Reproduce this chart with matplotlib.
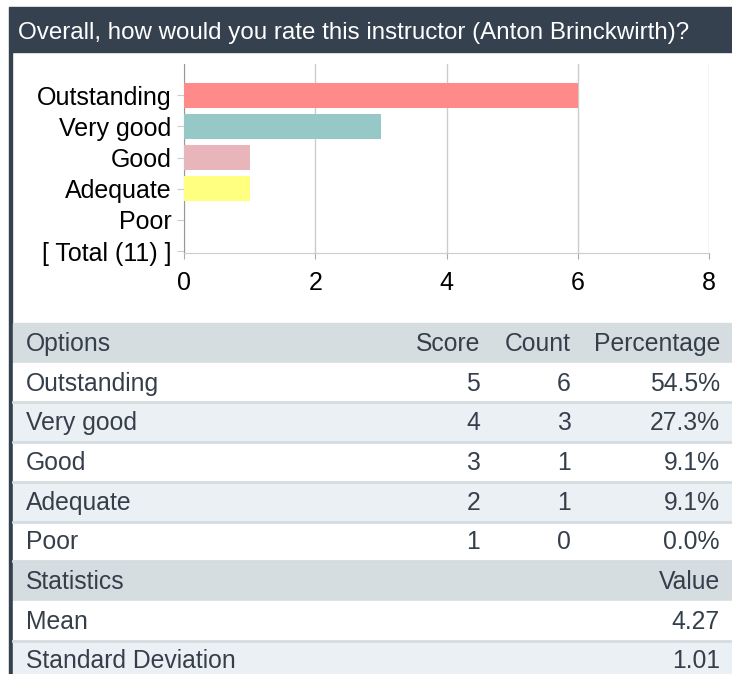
import matplotlib.pyplot as plt
from matplotlib.patches import Rectangle

plt.rcParams['font.family'] = ['Liberation Sans', 'DejaVu Sans']

title = "Overall, how would you rate this instructor (Anton Brinckwirth)?"
options = ["Outstanding", "Very good", "Good", "Adequate", "Poor"]
scores = [5, 4, 3, 2, 1]
counts = [6, 3, 1, 1, 0]
percentages = ["54.5%", "27.3%", "9.1%", "9.1%", "0.0%"]
total_label = "[ Total (11) ]"
bar_colors = ["#ff8a8a", "#96c8c8", "#e8b6ba", "#ffff80", "#cccccc"]
stat_names = ["Mean", "Standard Deviation"]
stat_values = ["4.27", "1.01"]

W, H = 732, 674
fig = plt.figure(figsize=(W / 100, H / 100), dpi=100)

# background layer in pixel coords
bg = fig.add_axes([0, 0, 1, 1])
bg.set_xlim(0, W)
bg.set_ylim(H, 0)
bg.axis('off')

dark = "#36414f"
txt = "#353f4b"
head_bg = "#d5dde1"
stripe = "#ebf0f4"

bg.add_patch(Rectangle((9, 7), W - 9, 45, color=dark))
bg.add_patch(Rectangle((9, 52), 2.5, H - 52, color=dark))
bg.text(18, 33, title, color="white", fontsize=17.4, va='center', ha='left')

# chart
ax = fig.add_axes([184 / W, 1 - 253 / H, 525 / W, 189 / H])
labels = options + [total_label]
ypos = list(range(len(labels)))
ax.barh(ypos[:len(options)], counts, height=0.8, color=bar_colors[:len(options)], zorder=3)
ax.set_yticks(ypos)
ax.set_yticklabels(labels, fontsize=18)
ax.set_ylim(5.06, -1)
ax.set_xlim(0, 8)
ax.set_xticks([0, 2, 4, 6, 8])
ax.tick_params(axis='x', labelsize=18, length=4, color="#aaaaaa", pad=9)
ax.tick_params(axis='y', length=5, color="#cccccc", pad=4)
ax.grid(axis='x', color="#cccccc", linewidth=1, zorder=0)
for s in ['top', 'right']:
    ax.spines[s].set_visible(False)
ax.spines['left'].set_color("#999999")
ax.spines['bottom'].set_color("#cccccc")

# table
row_h = 39.7
y0 = 323
rows = []
rows.append(("head", ["Options", "Score", "Count", "Percentage"]))
for i in range(len(options)):
    rows.append(("data", [options[i], str(scores[i]), str(counts[i]), percentages[i]]))
rows.append(("head", ["Statistics", "", "", "Value"]))
for i in range(len(stat_names)):
    rows.append(("data", [stat_names[i], "", "", stat_values[i]]))

col_x = [26, 480, 571, 720]
k = 0
for j, (kind, cells) in enumerate(rows):
    top = y0 + j * row_h
    if kind == "head":
        color = head_bg
        k = 0
    else:
        color = stripe if k % 2 == 1 else "white"
        k += 1
    bg.add_patch(Rectangle((13, top), W - 13, row_h, color=color, zorder=1))
    if kind == "data":
        bg.plot([13, W], [top + row_h, top + row_h], color="#d5dce0", lw=2, zorder=2)
    cy = top + row_h / 2 + 1
    bg.text(col_x[0], cy, cells[0], color=txt, fontsize=17.8, va='center', ha='left', zorder=3)
    for c in range(1, 4):
        bg.text(col_x[c], cy, cells[c], color=txt, fontsize=17.8, va='center', ha='right', zorder=3)

fig.savefig("out.png", dpi=100)
